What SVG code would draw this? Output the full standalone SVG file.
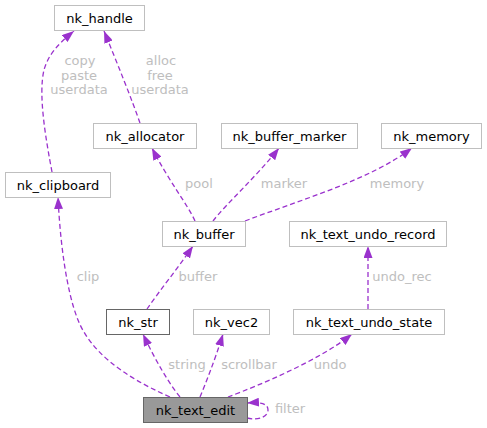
<svg xmlns="http://www.w3.org/2000/svg" width="487" height="428" viewBox="0 0 487 428">
<style>
.box{fill:#ffffff;stroke:#bfbfbf;stroke-width:1}
.doc{stroke:#666666}
.cur{fill:#999999;stroke:#666666}
.nt{font-family:"DejaVu Sans",sans-serif;font-size:13px;fill:#000000;text-anchor:middle}
.lb{font-family:"DejaVu Sans",sans-serif;font-size:13px;fill:#bebebe;text-anchor:middle}
.e{fill:none;stroke:#9a32cd;stroke-width:1.3;stroke-dasharray:5,3}
</style>
<defs>
<marker id="ah" markerUnits="userSpaceOnUse" markerWidth="12" markerHeight="9" refX="12" refY="4.5" orient="auto" viewBox="0 0 12 9">
<path d="M0,0 L12,4.5 L0,9 z" fill="#9a32cd" stroke="none"/>
</marker>
</defs>
<rect width="487" height="428" fill="#ffffff"/>
<g id="edges">
<path class="e" d="M52,172 C46,140 38,95 44,70 C48,55 58,44 74,31" marker-end="url(#ah)"/>
<path class="e" d="M140,123 C132,100 118,65 104,31" marker-end="url(#ah)"/>
<path class="e" d="M195,221 C188,205 168,180 152,148" marker-end="url(#ah)"/>
<path class="e" d="M213,221 C225,205 258,175 279,148" marker-end="url(#ah)"/>
<path class="e" d="M245,221 C300,200 370,180 412,148" marker-end="url(#ah)"/>
<path class="e" d="M147,309 C160,290 178,268 193,246" marker-end="url(#ah)"/>
<path class="e" d="M368,309 L368,246" marker-end="url(#ah)"/>
<path class="e" d="M170,397 C120,375 90,350 78,320 C66,290 60,240 58,197" marker-end="url(#ah)"/>
<path class="e" d="M180,397 C170,385 155,360 143,334" marker-end="url(#ah)"/>
<path class="e" d="M200,397 C205,385 215,360 223,334" marker-end="url(#ah)"/>
<path class="e" d="M228,397 C260,385 320,360 352,334" marker-end="url(#ah)"/>
<path class="e" d="M247,418 C260,421 268,416 268,410 C268,404 262,402 247,403" marker-end="url(#ah)"/>
<text class="lb" x="80" y="65">copy</text>
<text class="lb" x="79" y="80">paste</text>
<text class="lb" x="79" y="94">userdata</text>
<text class="lb" x="161" y="65">alloc</text>
<text class="lb" x="160" y="80">free</text>
<text class="lb" x="160" y="94">userdata</text>
<text class="lb" x="199" y="188">pool</text>
<text class="lb" x="284" y="188">marker</text>
<text class="lb" x="397" y="188">memory</text>
<text class="lb" x="198" y="281">buffer</text>
<text class="lb" x="402" y="281">undo_rec</text>
<text class="lb" x="88" y="281">clip</text>
<text class="lb" x="187" y="369">string</text>
<text class="lb" x="249" y="369">scrollbar</text>
<text class="lb" x="330" y="369">undo</text>
<text class="lb" x="290" y="413">filter</text>
</g>
<g id="nk_handle"><rect class="box" x="54.5" y="5.5" width="90" height="25"/><text class="nt" x="99.5" y="22.5">nk_handle</text></g>
<g id="nk_allocator"><rect class="box" x="93.5" y="123.5" width="103" height="25"/><text class="nt" x="145" y="140.5">nk_allocator</text></g>
<g id="nk_buffer_marker"><rect class="box" x="221.5" y="123.5" width="136" height="25"/><text class="nt" x="289.5" y="140.5">nk_buffer_marker</text></g>
<g id="nk_memory"><rect class="box" x="381.5" y="123.5" width="100" height="25"/><text class="nt" x="431.5" y="140.5">nk_memory</text></g>
<g id="nk_clipboard"><rect class="box" x="5.5" y="172.5" width="105" height="25"/><text class="nt" x="58" y="189.5">nk_clipboard</text></g>
<g id="nk_buffer"><rect class="box" x="162.5" y="221.5" width="83" height="25"/><text class="nt" x="204" y="238.5">nk_buffer</text></g>
<g id="nk_text_undo_record"><rect class="box" x="289.5" y="221.5" width="157" height="25"/><text class="nt" x="368" y="238.5">nk_text_undo_record</text></g>
<g id="nk_str"><rect class="box doc" x="106.5" y="309.5" width="63" height="25"/><text class="nt" x="138" y="326.5">nk_str</text></g>
<g id="nk_vec2"><rect class="box" x="193.5" y="309.5" width="76" height="25"/><text class="nt" x="231.5" y="326.5">nk_vec2</text></g>
<g id="nk_text_undo_state"><rect class="box" x="293.5" y="309.5" width="151" height="25"/><text class="nt" x="369" y="326.5">nk_text_undo_state</text></g>
<g id="nk_text_edit"><rect class="box cur" x="143.5" y="397.5" width="104" height="25"/><text class="nt" x="195.5" y="414.5">nk_text_edit</text></g>
</svg>
